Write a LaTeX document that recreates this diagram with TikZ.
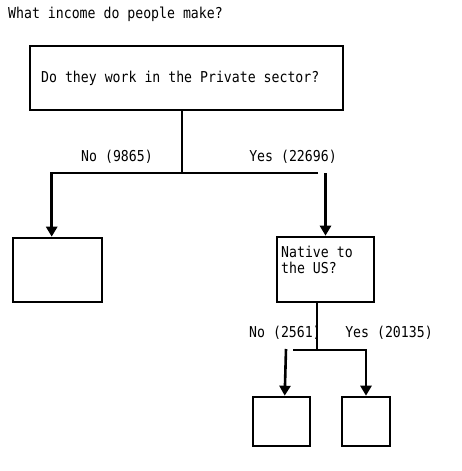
\documentclass[tikz,border=0pt]{standalone}
\usepackage{fontspec}
\usetikzlibrary{arrows.meta,calc}
\newfontfamily\treefont[FakeStretch=0.88]{DejaVu Sans Mono}
\begin{document}
\begin{tikzpicture}[x=1pt,y=-1pt,
  every node/.style={font=\treefont\fontsize{15}{14}\selectfont, text=black, inner sep=0pt},
  treebox/.style={draw, line width=2.6pt, rectangle},
  link/.style={line width=2.6pt},
  arr/.style={line width=2.6pt, -{Triangle[width=11pt,length=10pt]}},
  lbl/.style={anchor=base}
]
\useasboundingbox (0,0) rectangle (462,471);

% title
\node[anchor=base west] (title) at (8,18) {What income do people make?};

% root question box
\node[treebox, minimum width=313pt, minimum height=64pt] (root) at (186.5,78) {};
\node[anchor=base west] (q1) at (41,82) {Do they work in the Private sector?};

% leaves and second question
\node[treebox, minimum width=89pt, minimum height=64pt] (leafL) at (57.5,270) {};
\node[treebox, minimum width=97pt, minimum height=65pt] (native) at (325.5,269.5) {};
\node[anchor=base west, align=left, font=\treefont\fontsize{15}{16}\selectfont] (q2) at (281,273) {Native to\\the US?};
\node[treebox, minimum width=57pt, minimum height=49pt] (leafA) at (281.5,421.5) {};
\node[treebox, minimum width=48pt, minimum height=49pt] (leafB) at (366,421.5) {};

% junction points
\coordinate (rootOut) at (182,110);
\coordinate (j1) at (182,173);
\coordinate (barEnd) at (318,173);
\coordinate (yesTop) at (325.5,173);
\coordinate (natOut) at (317,302);
\coordinate (j2) at (317,350);
\coordinate (bar2) at (293,350);
\coordinate (noTop) at (286,349);

% first split
\draw[link] (rootOut) -- (j1);
\draw[arr] (barEnd) -| ($(leafL.north west)+(40,0)$);
\draw[arr] (yesTop) -- (native.north);

% second split
\draw[link] (natOut) -- (j2);
\draw[arr] (bar2) -| (leafB.north);
\draw[arr] (noTop) -- ($(leafA.north west)+(33,0)$);

% branch labels
\node[lbl] (no1) at (117,161) {No (9865)};
\node[lbl] (yes1) at (293,161) {Yes (22696)};
\node[lbl] (no2) at (285,337) {No (2561)};
\node[lbl] (yes2) at (389,337) {Yes (20135)};
\end{tikzpicture}
\end{document}
